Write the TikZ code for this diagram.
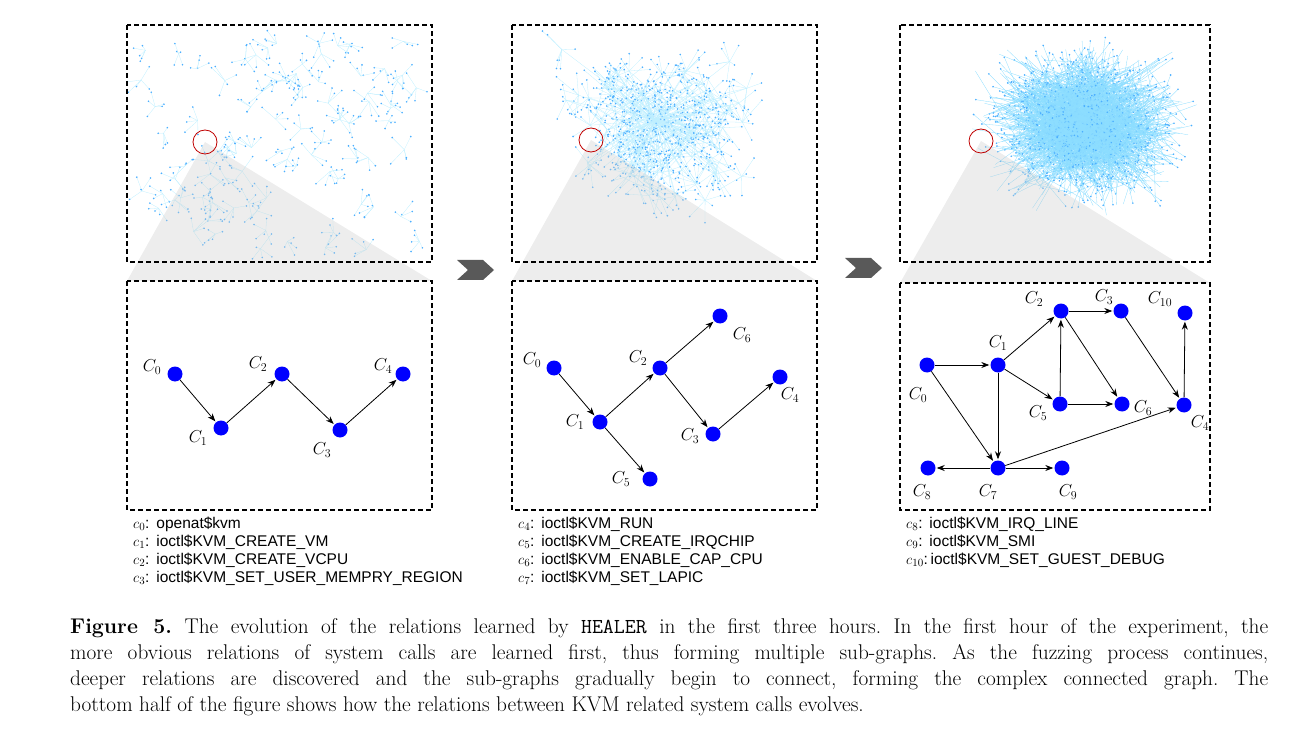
\documentclass[tikz,border=0pt]{standalone}
\usepackage{fontspec}
\newfontfamily\legfont{Liberation Sans}
\usetikzlibrary{arrows.meta}
\frenchspacing
\begin{document}
\begin{tikzpicture}[x=1pt,y=-1pt,
  v/.style={circle,fill=blue,inner sep=0pt,minimum size=15pt},
  lab/.style={font=\fontsize{17}{17}\selectfont},
  e/.style={-{Stealth[length=8pt,width=6pt]},thick,shorten >=1pt},
  box/.style={draw,line width=1.6pt,dash pattern=on 5pt off 3pt},
  leg/.style={anchor=west,font=\legfont\fontsize{15.5}{15.5}\selectfont,inner sep=0pt},
  captxt/.style={anchor=west,font=\fontsize{21.3}{21.3}\selectfont,inner sep=0pt},
  dot/.style={fill=blue!45!cyan!70,draw=none},
  ln/.style={draw=blue!25!cyan!25,line width=0.3pt}]
\useasboundingbox (0,0) rectangle (1307,738);
\pgfmathsetseed{7}
% panel 1 scatter
\begin{scope}
\clip (127,25) rectangle (432,262);
\foreach \i in {1,...,90}{
  \pgfmathsetmacro\cx{140+280*rnd}\pgfmathsetmacro\cy{40+210*rnd}
  \foreach \j in {1,...,5}{
    \pgfmathsetmacro\px{\cx+30*(rnd-0.5)}\pgfmathsetmacro\py{\cy+30*(rnd-0.5)}
    \draw[ln] (\cx,\cy) -- (\px,\py); \fill[dot] (\px,\py) circle (0.9);}
}
\end{scope}
% panel 2
\begin{scope}
\clip (512,25) rectangle (817,262);
\foreach \i in {1,...,130}{
  \pgfmathsetmacro\cx{660+85*(rnd+rnd+rnd-1.5)}\pgfmathsetmacro\cy{125+70*(rnd+rnd+rnd-1.5)}
  \draw[ln] (655,120) -- (\cx,\cy);
  \foreach \j in {1,...,7}{
    \pgfmathsetmacro\px{\cx+45*(rnd-0.5)}\pgfmathsetmacro\py{\cy+45*(rnd-0.5)}
    \draw[ln] (\cx,\cy) -- (\px,\py); \fill[dot] (\px,\py) circle (0.9);}
}
\end{scope}
% panel 3
\begin{scope}
\clip (900,25) rectangle (1210,262);
\foreach \i in {1,...,1500}{
  \pgfmathsetmacro\px{1085+80*(rnd+rnd+rnd-1.5)}\pgfmathsetmacro\py{125+62*(rnd+rnd+rnd-1.5)}
  \pgfmathsetmacro\qx{1085+80*(rnd+rnd+rnd-1.5)}\pgfmathsetmacro\qy{125+62*(rnd+rnd+rnd-1.5)}
  \draw[ln,draw=blue!30!cyan!45] (\qx,\qy) -- (\px,\py); \fill[dot] (\px,\py) circle (0.9);}
\end{scope}
% zoom triangles
\fill[gray!40,opacity=0.35] (205,142) -- (127,281) -- (432,281) -- cycle;
\fill[gray!40,opacity=0.35] (591,140) -- (512,281) -- (817,281) -- cycle;
\fill[gray!40,opacity=0.35] (981,141) -- (900,283) -- (1210,283) -- cycle;
\draw[red!75!black,thick] (205,142) circle (12);
\draw[red!75!black,thick] (591,140) circle (12);
\draw[red!75!black,thick] (981,141) circle (12);
% boxes
\draw[box] (127,25) rectangle (432,262);
\draw[box] (512,25) rectangle (817,262);
\draw[box] (900,25) rectangle (1210,262);
\draw[box] (127,281) rectangle (432,510);
\draw[box] (512,281) rectangle (817,510);
\draw[box] (900,283) rectangle (1210,510);
% chevrons
\fill[gray!70!black] (457,260) -- (483,260) -- (494,270) -- (483,280) -- (457,280) -- (468,270) -- cycle;
\fill[gray!70!black] (845,258) -- (871,258) -- (882,268) -- (871,278) -- (845,278) -- (856,268) -- cycle;
% panel 1 graph
\node[v] (a0) at (175,374) {}; \node[v] (a1) at (221,428) {};
\node[v] (a2) at (282,374) {}; \node[v] (a3) at (340,430) {};
\node[v] (a4) at (403,374) {};
\draw[e] (a0)--(a1); \draw[e] (a1)--(a2); \draw[e] (a2)--(a3); \draw[e] (a3)--(a4);
\node[lab] at (152,367) {$C_0$}; \node[lab] at (198,438) {$C_1$};
\node[lab] at (258,364) {$C_2$}; \node[lab] at (322,450) {$C_3$};
\node[lab] at (383,366) {$C_4$};
% panel 2 graph
\node[v] (b0) at (554,368) {}; \node[v] (b1) at (600,422) {};
\node[v] (b2) at (660,368) {}; \node[v] (b3) at (713,434) {};
\node[v] (b4) at (780,377) {}; \node[v] (b5) at (650,479) {};
\node[v] (b6) at (720,316) {};
\draw[e] (b0)--(b1); \draw[e] (b1)--(b2); \draw[e] (b2)--(b3); \draw[e] (b3)--(b4);
\draw[e] (b1)--(b5); \draw[e] (b2)--(b6);
\node[lab] at (532,360) {$C_0$}; \node[lab] at (575,422) {$C_1$};
\node[lab] at (638,358) {$C_2$}; \node[lab] at (690,436) {$C_3$};
\node[lab] at (790,395) {$C_4$}; \node[lab] at (621,479) {$C_5$};
\node[lab] at (742,335) {$C_6$};
% panel 3 graph
\node[v] (c0) at (927,365) {}; \node[v] (c1) at (998,365) {};
\node[v] (c2) at (1061,311) {}; \node[v] (c3) at (1121,311) {};
\node[v] (c10) at (1185,313) {}; \node[v] (c5) at (1060,404) {};
\node[v] (c6) at (1122,404) {}; \node[v] (c4) at (1184,405) {};
\node[v] (c8) at (928,468) {}; \node[v] (c7) at (998,468) {};
\node[v] (c9) at (1062,468) {};
\draw[e] (c0)--(c1); \draw[e] (c0)--(c7); \draw[e] (c1)--(c2); \draw[e] (c1)--(c5);
\draw[e] (c1)--(c7); \draw[e] (c2)--(c3); \draw[e] (c2)--(c6); \draw[e] (c5)--(c2);
\draw[e] (c5)--(c6); \draw[e] (c3)--(c4); \draw[e] (c4)--(c10); \draw[e] (c7)--(c4);
\draw[e] (c7)--(c8); \draw[e] (c7)--(c9);
\node[lab] at (918,395) {$C_0$}; \node[lab] at (998,343) {$C_1$};
\node[lab] at (1034,299) {$C_2$}; \node[lab] at (1104,297) {$C_3$};
\node[lab] at (1160,299) {$C_{10}$}; \node[lab] at (1038,413) {$C_5$};
\node[lab] at (1143,408) {$C_6$}; \node[lab] at (1200,423) {$C_4$};
\node[lab] at (922,492) {$C_8$}; \node[lab] at (988,492) {$C_7$};
\node[lab] at (1068,492) {$C_9$};
% legends
\node[leg] at (133,524) {$c_0$:\, openat\$kvm};
\node[leg] at (133,542) {$c_1$:\, ioctl\$KVM\_CREATE\_VM};
\node[leg] at (133,560) {$c_2$:\, ioctl\$KVM\_CREATE\_VCPU};
\node[leg] at (133,578) {$c_3$:\, ioctl\$KVM\_SET\_USER\_MEMPRY\_REGION};
\node[leg] at (518,524) {$c_4$:\, ioctl\$KVM\_RUN};
\node[leg] at (518,542) {$c_5$:\, ioctl\$KVM\_CREATE\_IRQCHIP};
\node[leg] at (518,560) {$c_6$:\, ioctl\$KVM\_ENABLE\_CAP\_CPU};
\node[leg] at (518,578) {$c_7$:\, ioctl\$KVM\_SET\_LAPIC};
\node[leg] at (906,524) {$c_8$:\, ioctl\$KVM\_IRQ\_LINE};
\node[leg] at (906,542) {$c_9$:\, ioctl\$KVM\_SMI};
\node[leg] at (906,560) {$c_{10}$:\,ioctl\$KVM\_SET\_GUEST\_DEBUG};
% caption
\node[captxt] at (70,628) {\makebox[1198pt][s]{\textbf{Figure 5.} The evolution of the relations learned by \texttt{HEALER} in the first three hours. In the first hour of the experiment, the}};
\node[captxt] at (70,654) {\makebox[1198pt][s]{more obvious relations of system calls are learned first, thus forming multiple sub-graphs. As the fuzzing process continues,}};
\node[captxt] at (70,680) {\makebox[1198pt][s]{deeper relations are discovered and the sub-graphs gradually begin to connect, forming the complex connected graph. The}};
\node[captxt] at (70,706) {bottom half of the figure shows how the relations between KVM related system calls evolves.};
\end{tikzpicture}
\end{document}
